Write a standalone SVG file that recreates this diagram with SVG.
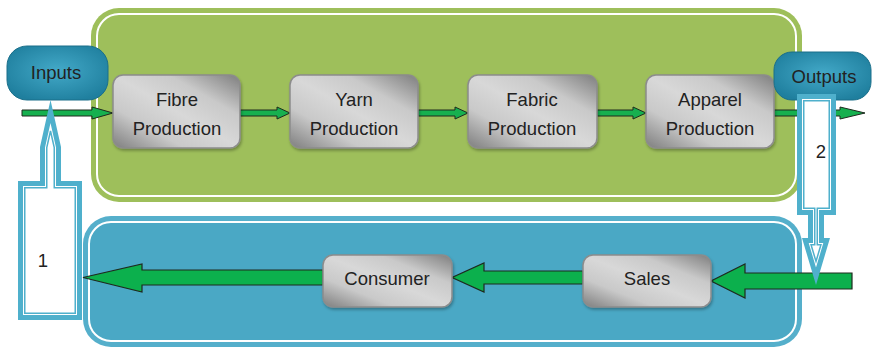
<svg xmlns="http://www.w3.org/2000/svg" width="873" height="349" viewBox="0 0 873 349">
<style>
.lbl{font-family:"Liberation Sans",Arial,sans-serif;font-size:18.5px;fill:#222;text-anchor:middle}
.box{fill:url(#boxg);stroke:#8c8c8c;stroke-width:1.5;filter:url(#sh)}
.pill{fill:url(#pillg);stroke:#1a6f8a;stroke-width:1}
.arr{fill:#16b04f;stroke:#1e2a1e;stroke-width:1;stroke-linejoin:miter}
.big{fill:#0cb04d;stroke:#1e2a1e;stroke-width:1.2}
.cb{fill:#4fb0cc}
.cw{fill:#fff}
.ci{fill:#fff;stroke:#4fb0cc;stroke-width:1.5}
</style>
<defs>
<linearGradient id="boxg" x1="1" y1="0" x2="0" y2="1">
<stop offset="0" stop-color="#7e7e7e"/>
<stop offset="0.28" stop-color="#c9c9c9"/>
<stop offset="0.5" stop-color="#d8d8d8"/>
<stop offset="0.72" stop-color="#c9c9c9"/>
<stop offset="1" stop-color="#7e7e7e"/>
</linearGradient>
<radialGradient id="pillg" cx="0.5" cy="0.45" r="0.6">
<stop offset="0" stop-color="#43a9c8"/>
<stop offset="1" stop-color="#1f7f9e"/>
</radialGradient>
<filter id="sh" x="-10%" y="-10%" width="125%" height="130%">
<feDropShadow dx="1" dy="2" stdDeviation="1.5" flood-color="#000" flood-opacity="0.3"/>
</filter>
</defs>

<g id="panel-production">
<rect x="91" y="8" width="711" height="194" rx="28" fill="#9ebf5b"/>
<rect x="97" y="14" width="699" height="182" rx="22" fill="none" stroke="#fff" stroke-width="2"/>
</g>
<g id="panel-market">
<rect x="83" y="216" width="719" height="131" rx="28" fill="#55afcb"/>
<rect x="89" y="222" width="707" height="119" rx="22" fill="#4aa8c5" stroke="#fff" stroke-width="2"/>
</g>

<g id="connectors">
<polygon class="arr" points="22,110 92,110 92,107 113,113 92,119 92,116 22,116"/>
<polygon class="arr" points="240,110 277,110 277,107 290,113 277,119 277,116 240,116"/>
<polygon class="arr" points="418,110 455,110 455,107 468,113 455,119 455,116 418,116"/>
<polygon class="arr" points="597,110 633,110 633,107 646,113 633,119 633,116 597,116"/>
<polygon class="arr" points="774,110 840,110 840,107 865,113 840,119 840,116 774,116"/>
<polygon class="big" points="852,273 745,273 745,264 711,281 745,298 745,289 852,289"/>
<polygon class="big" points="583,271 484,271 484,263 452,277.5 484,292 484,284 583,284"/>
<polygon class="big" points="323,270 142,270 142,264 83,277.5 142,292 142,285 323,285"/>
</g>

<g id="node-fibre">
<rect class="box" x="113" y="75" width="127" height="73" rx="10"/>
<text class="lbl" x="177" y="106">Fibre</text>
<text class="lbl" x="177" y="135">Production</text>
</g>
<g id="node-yarn">
<rect class="box" x="290" y="75" width="128" height="73" rx="10"/>
<text class="lbl" x="354" y="106">Yarn</text>
<text class="lbl" x="354" y="135">Production</text>
</g>
<g id="node-fabric">
<rect class="box" x="468" y="75" width="129" height="73" rx="10"/>
<text class="lbl" x="532" y="106">Fabric</text>
<text class="lbl" x="532" y="135">Production</text>
</g>
<g id="node-apparel">
<rect class="box" x="646" y="75" width="128" height="73" rx="10"/>
<text class="lbl" x="710" y="106">Apparel</text>
<text class="lbl" x="710" y="135">Production</text>
</g>
<g id="node-sales">
<rect class="box" x="583" y="255" width="128" height="52" rx="10"/>
<text class="lbl" x="647" y="285">Sales</text>
</g>
<g id="node-consumer">
<rect class="box" x="323" y="255" width="129" height="52" rx="10"/>
<text class="lbl" x="387" y="285">Consumer</text>
</g>

<g id="node-inputs">
<rect class="pill" x="7" y="46" width="101" height="54" rx="20"/>
<text class="lbl" x="56" y="79">Inputs</text>
</g>
<g id="node-outputs">
<rect class="pill" x="774" y="52" width="97" height="48" rx="18"/>
<text class="lbl" x="824" y="83">Outputs</text>
</g>

<g id="callout-1">
<polygon class="cb" points="18,181 40,181 40,147 50.5,100 61,147 61,181 82,181 82,320 18,320"/>
<polygon class="cw" points="23,186 45,186 45,147.5 50.5,123 56,147.5 56,186 77,186 77,315 23,315"/>
<polygon class="ci" points="24.75,187.75 46.75,187.75 46.75,147.7 50.5,131 54.25,147.7 54.25,187.75 75.25,187.75 75.25,313.25 24.75,313.25"/>
<text class="lbl" x="43" y="267">1</text>
</g>
<g id="callout-2">
<polygon class="cb" points="797,94 836,94 836,215 824,215 824,238 830,238 816,285 802,238 808,238 808,215 797,215"/>
<polygon class="cw" points="802,99 831,99 831,210 819,210 819,243 823.3,243 816,267.5 808.7,243 813,243 813,210 802,210"/>
<polygon class="ci" points="803.75,100.75 829.25,100.75 829.25,208.25 817.25,208.25 817.25,244.75 820.95,244.75 816,261.4 811.05,244.75 814.75,244.75 814.75,208.25 803.75,208.25"/>
<text class="lbl" x="821" y="158">2</text>
</g>
</svg>
